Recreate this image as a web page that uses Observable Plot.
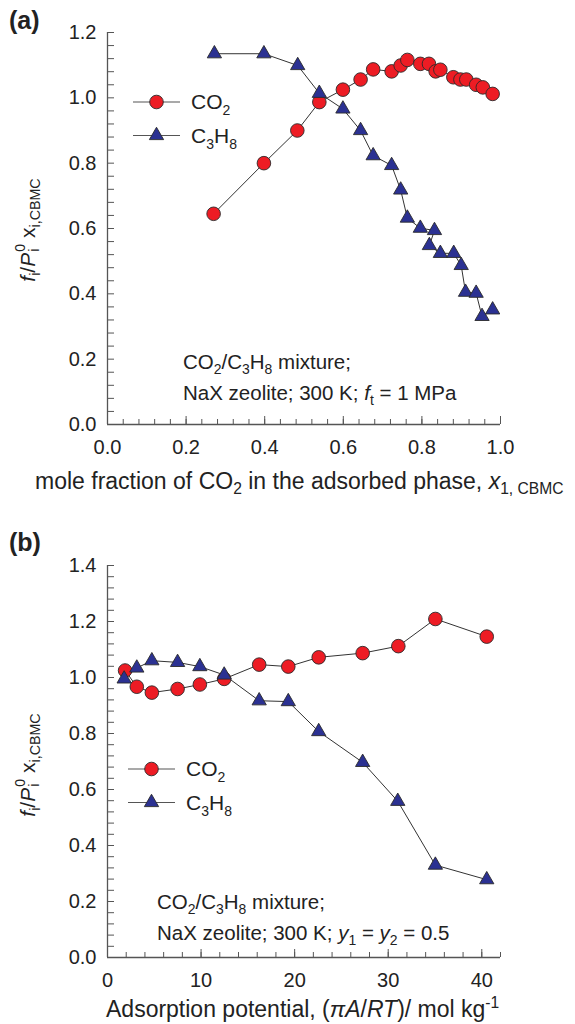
<!DOCTYPE html>
<html><head><meta charset="utf-8">
<script src="https://cdn.jsdelivr.net/npm/d3@7"></script>
<script src="https://cdn.jsdelivr.net/npm/@observablehq/plot@0.6"></script>
<style>
body{margin:0;background:#fff;font-family:Arial,"Liberation Sans",sans-serif;color:#222}
#wrap{position:relative;width:575px;height:1024px;overflow:hidden}
.panel{position:absolute;left:0;width:575px}
.ov{position:absolute;white-space:nowrap;line-height:1;color:#222}
.ov sub,.ov sup{font-size:0.68em;line-height:0}
.ov sub{vertical-align:-0.35em}
.ov sup{vertical-align:0.55em}
.tag{font-weight:bold;font-size:25px}
.ylab{transform:translate(-50%,-50%) rotate(-90deg);font-size:21px}
.ss{display:inline-block;vertical-align:middle;font-size:0.68em;line-height:0.95;text-align:left;margin-left:1px;position:relative;top:-0.05em}
.ss span{display:block}
.xlab{font-size:23px}
.ann{font-size:20.5px;line-height:31px}
.leg{position:absolute;overflow:visible}
</style>
</head><body>
<div id="wrap"></div>
<script>
// ---------- data ----------
// Panel (a): x = mole fraction of CO2 in adsorbed phase
const co2A_x = [0.270,0.398,0.483,0.539,0.599,0.644,0.676,0.723,0.746,0.763,0.796,0.818,0.835,0.847,0.880,0.898,0.913,0.938,0.955,0.980];
const co2A_y = [0.645,0.800,0.900,0.987,1.025,1.056,1.087,1.081,1.099,1.116,1.104,1.104,1.081,1.086,1.063,1.056,1.056,1.040,1.032,1.012];
const c3h8A_x = [0.272,0.398,0.484,0.539,0.599,0.644,0.676,0.723,0.746,0.763,0.796,0.832,0.819,0.847,0.881,0.900,0.911,0.938,0.953,0.980];
const c3h8A_y = [1.135,1.135,1.099,1.014,0.966,0.900,0.823,0.793,0.718,0.632,0.601,0.594,0.548,0.524,0.524,0.487,0.405,0.402,0.331,0.351];
// Panel (b): x = adsorption potential
const co2B_x = [1.88,3.13,4.74,7.49,9.87,12.47,16.21,19.32,22.57,27.27,31.08,35.04,40.53];
const co2B_y = [1.025,0.967,0.946,0.959,0.975,0.995,1.046,1.039,1.072,1.087,1.112,1.209,1.146];
const c3h8B_x = [1.78,3.13,4.74,7.49,9.87,12.47,16.21,19.32,22.57,27.27,31.02,35.04,40.53];
const c3h8B_y = [0.995,1.034,1.060,1.054,1.039,1.009,0.917,0.914,0.807,0.697,0.558,0.330,0.278];
// ticks
const xTicksA = [0,0.2,0.4,0.6,0.8,1.0];
const yTicksA = [0,0.2,0.4,0.6,0.8,1.0,1.2];
const xTicksB = [0,10,20,30,40];
const yTicksB = [0,0.2,0.4,0.6,0.8,1.0,1.2,1.4];
const seriesNames = ["CO2","C3H8"];

const RED = "#ED1C24", NAVY = "#2B3192", EDGE = "#2a2a2a", AX = "#555";

function rows(xs, ys){ return xs.map((x,i)=>({x, y: ys[i]})); }

function panel({height, mt, mb, xDomain, yDomain, xMajor, xMinor, yMajor, yMinor, xFmt, yFmt, co2, c3h8}){
  return Plot.plot({
    width: 575, height, marginTop: mt, marginBottom: mb, marginLeft: 107, marginRight: 75,
    x: {domain: xDomain}, y: {domain: yDomain},
    style: {fontFamily: "Arial, 'Liberation Sans', sans-serif", fontSize: "20px", color: "#222", background: "transparent", overflow: "visible"},
    marks: [
      Plot.axisX(xMinor, {tickSize: 5, dy: -5, fill: "none", label: null, stroke: AX}),
      Plot.axisX(xMajor, {tickSize: 8, dy: -8, fill: "none", label: null, stroke: AX}),
      Plot.axisX(xMajor, {tickSize: 0, tickPadding: 15, tickFormat: xFmt, label: null, fill: "#222"}),
      Plot.axisY(yMinor, {tickSize: 7, dx: 7, fill: "none", label: null, stroke: AX}),
      Plot.axisY(yMajor, {tickSize: 0, tickPadding: 11, tickFormat: yFmt, label: null, fill: "#222"}),
      Plot.ruleY([yDomain[0]], {stroke: AX, strokeWidth: 1.3}),
      Plot.ruleX([xDomain[0]], {stroke: AX, strokeWidth: 1.3}),
      Plot.line(co2, {x: "x", y: "y", stroke: "#333", strokeWidth: 1}),
      Plot.line(c3h8, {x: "x", y: "y", stroke: "#333", strokeWidth: 1}),
      Plot.dot(co2, {x: "x", y: "y", r: 6.8, fill: RED, stroke: EDGE, strokeWidth: 0.9, symbol: "circle"}),
      Plot.dot(c3h8, {x: "x", y: "y", r: 5.3, fill: NAVY, stroke: EDGE, strokeWidth: 0.9, symbol: "triangle"})
    ]
  });
}

const wrap = document.getElementById("wrap");

const minorA = d3.range(0, 26).map(i => i * 0.04);
const minorAy = d3.range(0, 31).map(i => i * 0.04);
const minorBx = d3.range(0, 22).map(i => i * 2);
const minorBy = d3.range(0, 36).map(i => i * 0.04);

const pa = panel({height: 505, mt: 32, mb: 81, xDomain: [0,1], yDomain: [0,1.2],
  xMajor: xTicksA, xMinor: minorA, yMajor: yTicksA, yMinor: minorAy,
  xFmt: d3.format(".1f"), yFmt: d3.format(".1f"),
  co2: rows(co2A_x, co2A_y), c3h8: rows(c3h8A_x, c3h8A_y)});
const pb = panel({height: 519, mt: 60, mb: 67, xDomain: [0,42], yDomain: [0,1.4],
  xMajor: xTicksB, xMinor: minorBx, yMajor: yTicksB, yMinor: minorBy,
  xFmt: d3.format("d"), yFmt: d3.format(".1f"),
  co2: rows(co2B_x, co2B_y), c3h8: rows(c3h8B_x, c3h8B_y)});

const da = document.createElement("div"); da.className = "panel"; da.style.top = "0px"; da.appendChild(pa); wrap.appendChild(da);
const db = document.createElement("div"); db.className = "panel"; db.style.top = "505px"; db.appendChild(pb); wrap.appendChild(db);

function ov(html, cls, left, top){
  const d = document.createElement("div");
  d.className = "ov " + cls; d.innerHTML = html;
  d.style.left = left + "px"; d.style.top = top + "px";
  wrap.appendChild(d); return d;
}
const ylabHTML = '<i>f</i><sub>i</sub>/<i>P</i><span class="ss"><span>0</span><span>i</span></span> x<sub>i,CBMC</sub>';

// panel a texts
ov("(a)", "tag", 9, 8);
ov(ylabHTML, "ylab", 29, 230);
ov('mole fraction of CO<sub>2</sub> in the adsorbed phase, <i>x</i><sub>1, CBMC</sub>', "xlab", 35, 470);
ov('CO<sub>2</sub>/C<sub>3</sub>H<sub>8</sub> mixture;<br>NaX zeolite; 300 K; <i>f</i><sub>t</sub> = 1 MPa', "ann", 183, 346);
// panel b texts
ov("(b)", "tag", 9, 530);
ov(ylabHTML, "ylab", 29, 765);
ov('Adsorption potential, (<i>&pi;A</i>/<i>RT</i>)/ mol kg<sup>-1</sup>', "xlab", 106, 998);
ov('CO<sub>2</sub>/C<sub>3</sub>H<sub>8</sub> mixture;<br>NaX zeolite; 300 K; <i>y</i><sub>1</sub> = <i>y</i><sub>2</sub> = 0.5', "ann", 157, 886);

// legends (padded svg so nothing touches its edges)
function legend(left, top){
  const ns = "http://www.w3.org/2000/svg";
  const pad = 16;
  const svg = document.createElementNS(ns, "svg");
  svg.setAttribute("width", 150); svg.setAttribute("height", 90);
  svg.setAttribute("class", "leg");
  svg.style.left = (left - pad) + "px"; svg.style.top = (top - pad) + "px"; svg.style.position = "absolute";
  const g = document.createElementNS(ns, "g");
  g.setAttribute("transform", `translate(${pad},${pad})`);
  svg.appendChild(g);
  const labels = ['CO<tspan font-size="14" dy="6">2</tspan>', 'C<tspan font-size="14" dy="6">3</tspan><tspan dy="-6">H</tspan><tspan font-size="14" dy="6">8</tspan>'];
  seriesNames.forEach((name, i) => {
    const cy = 10 + i * 33.5;
    const ln = document.createElementNS(ns, "line");
    ln.setAttribute("x1", 0); ln.setAttribute("x2", 47); ln.setAttribute("y1", cy); ln.setAttribute("y2", cy);
    ln.setAttribute("stroke", "#555"); ln.setAttribute("stroke-width", 1.2);
    g.appendChild(ln);
    let m;
    if (i === 0) {
      m = document.createElementNS(ns, "circle");
      m.setAttribute("cx", 23.5); m.setAttribute("cy", cy); m.setAttribute("r", 6.8); m.setAttribute("fill", RED);
    } else {
      m = document.createElementNS(ns, "path");
      m.setAttribute("d", d3.symbol(d3.symbolTriangle, Math.PI * 5.3 * 5.3)());
      m.setAttribute("transform", `translate(23.5,${cy})`); m.setAttribute("fill", NAVY);
    }
    m.setAttribute("stroke", EDGE); m.setAttribute("stroke-width", 0.9);
    g.appendChild(m);
    const t = document.createElementNS(ns, "text");
    t.setAttribute("x", 58); t.setAttribute("y", cy + 7);
    t.setAttribute("font-size", 21); t.setAttribute("fill", "#222");
    t.setAttribute("font-family", "Arial, 'Liberation Sans', sans-serif");
    t.innerHTML = labels[i];
    g.appendChild(t);
  });
  wrap.appendChild(svg);
}
legend(133, 92);
legend(128, 759);
</script>
</body></html>
